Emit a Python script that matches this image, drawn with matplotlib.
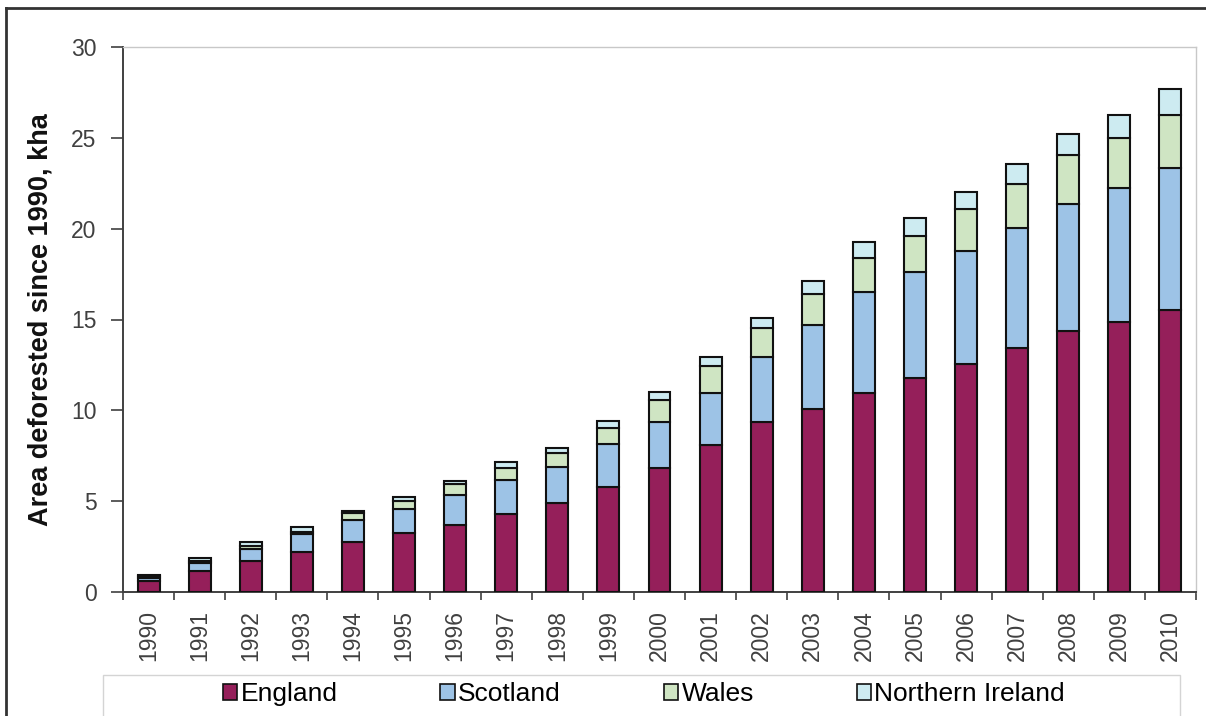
import numpy as np
import matplotlib
matplotlib.use("Agg")
import matplotlib.pyplot as plt
from matplotlib.patches import Rectangle, Patch
from matplotlib.lines import Line2D

plt.rcParams['font.family'] = ['Liberation Sans', 'DejaVu Sans']

# Cumulative area deforested since 1990 (kha), by country
years = [str(y) for y in range(1990, 2011)]
england = [0.60, 1.17, 1.72, 2.22, 2.74, 3.25, 3.70, 4.27, 4.92, 5.80, 6.81,
           8.09, 9.34, 10.09, 10.97, 11.76, 12.55, 13.41, 14.38, 14.86, 15.52]
scotland = [0.18, 0.41, 0.65, 0.95, 1.22, 1.32, 1.65, 1.87, 1.98, 2.33, 2.53,
            2.85, 3.61, 4.62, 5.53, 5.87, 6.24, 6.61, 6.98, 7.36, 7.80]
wales = [0.10, 0.15, 0.18, 0.15, 0.37, 0.46, 0.58, 0.67, 0.77, 0.90, 1.23,
         1.50, 1.56, 1.68, 1.87, 1.98, 2.28, 2.42, 2.69, 2.75, 2.94]
northern_ireland = [0.07, 0.12, 0.22, 0.28, 0.15, 0.22, 0.19, 0.34, 0.27, 0.40, 0.43,
                    0.51, 0.55, 0.75, 0.90, 0.96, 0.93, 1.10, 1.16, 1.29, 1.41]
series_names = ["England", "Scotland", "Wales", "Northern Ireland"]
y_ticks = [0, 5, 10, 15, 20, 25, 30]

colors = ["#951F5A", "#9DC3E6", "#CFE5C3", "#CDEBF1"]

W, H = 1206, 716
fig = plt.figure(figsize=(W / 100, H / 100), dpi=100)
ax = fig.add_axes([123 / W, 1 - 592 / H, (1196 - 123) / W, (592 - 47) / H])

x = np.arange(len(years))
bottom = np.zeros(len(years))
for name, vals, col in zip(series_names,
                           [england, scotland, wales, northern_ireland], colors):
    vals = np.asarray(vals)
    ax.bar(x, vals, 0.43, bottom=bottom, color=col, edgecolor="#111111",
           linewidth=1.5, label=name, zorder=3)
    bottom = bottom + vals

ax.set_xlim(-0.5, len(years) - 0.5)
ax.set_ylim(0, 30)
ax.set_yticks(y_ticks)
ax.set_yticklabels([str(v) for v in y_ticks])
ax.set_xticks(x)
ax.set_xticklabels(years, rotation=90)
ax.set_xticks(np.arange(-0.5, len(years), 1.0), minor=True)

tick_col = "#404040"
ax.tick_params(axis="y", length=9, width=1.2, color=tick_col, labelsize=16.5,
               labelcolor=tick_col, pad=10)
ax.tick_params(axis="x", which="major", length=0, labelsize=16.5,
               labelcolor=tick_col, pad=13)
ax.tick_params(axis="x", which="minor", length=6, width=1.2, color=tick_col)

for side in ("left", "bottom"):
    ax.spines[side].set_color(tick_col)
    ax.spines[side].set_linewidth(1.4)
for side in ("top", "right"):
    ax.spines[side].set_color("#C8C8C8")
    ax.spines[side].set_linewidth(1.0)

ax.set_ylabel("Area deforested since 1990, kha", fontsize=19.5, fontweight="bold",
              color="#111111", labelpad=13)

# Legend in a light box along the bottom edge
fig.patches.append(Rectangle((103 / W, -0.02), (1180 - 103) / W, 0.02 + (716 - 675) / H,
                             transform=fig.transFigure, fill=False,
                             edgecolor="#D4D4D4", linewidth=1.0))
handles = [Patch(facecolor=c, edgecolor="#111111", linewidth=1.2) for c in colors]
fig.legend(handles, series_names, ncol=4, loc="center",
           bbox_to_anchor=(644 / W, 1 - 694 / H), frameon=False, fontsize=19,
           handlelength=0.55, handleheight=0.55, handletextpad=0.12,
           columnspacing=3.9)

# Outer chart frame (top and left edges)
fig.lines.append(Line2D([6 / W, 6 / W], [0, 1 - 8 / H], transform=fig.transFigure,
                        color="#333333", linewidth=2))
fig.lines.append(Line2D([6 / W, 1], [1 - 8 / H, 1 - 8 / H], transform=fig.transFigure,
                        color="#333333", linewidth=2))

fig.savefig("out.png", dpi=100)
